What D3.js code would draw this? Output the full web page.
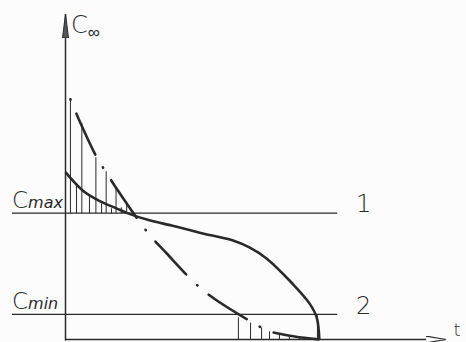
<!DOCTYPE html>
<html>
<head>
<meta charset="utf-8">
<script src="https://cdn.jsdelivr.net/npm/d3@7"></script>
<style>
  body { margin: 0; background: #fcfcfc; }
  svg { display: block; }
  text { font-family: "DejaVu Sans", sans-serif; font-weight: 200; fill: #2a2a2a; }
</style>
</head>
<body>
<svg id="chart"></svg>
<script>
const width = 466,
  height = 342;

// ---- data (t, C in chart units) ----
const solidT = [0, 4.5, 8.9, 13.4, 16.1, 22.1, 28.7, 35.3, 43.9, 48.4, 52.9, 59.7, 64.2, 66.1, 66.8];
const solidC = [51.4, 45.8, 42.6, 40.3, 38.9, 36.6, 34.8, 32.8, 30.5, 28.3, 24.9, 17.2, 11.1, 6.8, 0];

const dashT = [1.3, 3.7, 8.2, 10.5, 13.2, 21.6, 26.6, 33.9, 38.7, 49.7, 53.7, 60.3, 66.8];
const dashC = [73.8, 67.1, 56.0, 51.7, 46.8, 32.9, 26.5, 17.5, 12.9, 4.9, 2.5, 0.9, 0];

// sticks standing on the Cmax line
const upperStickT = [1.3, 2.9, 4.3, 6.3, 8.0, 9.5, 10.7, 12.1, 13.3, 14.7, 16.1];
const upperStickTop = [73.8, 47.7, 66.5, 44.3, 56.0, 41.8, 51.7, 40.3, 46.8, 40.6, 41.5];

// sticks standing on the t axis
const lowerStickT = [45.5, 48.7, 51.6, 53.7, 56.3, 58.9, 61.6, 66.3];
const lowerStickTop = [6.8, 5.2, 3.7, 2.5, 1.7, 1.1, 0.6, 7.4];

const levelNames = ["max", "min"];
const levelValues = [38.8, 7.7];
const levelIds = ["1", "2"];

const ink = "#2a2a2a";

const svg = d3.select("#chart").attr("width", width).attr("height", height);

const x = d3.scaleLinear().domain([0, 100]).range([65.5, 445.5]);
const y = d3.scaleLinear().domain([0, 100]).range([339.5, 14]);

// arrowheads
const defs = svg.append("defs");
defs.append("marker")
  .attr("id", "arrowY")
  .attr("viewBox", "0 0 24 8")
  .attr("refX", 24).attr("refY", 4)
  .attr("markerUnits", "userSpaceOnUse")
  .attr("markerWidth", 24).attr("markerHeight", 8)
  .attr("orient", "auto")
  .append("path")
  .attr("d", "M0,1 L24,4 L0,7 Z")
  .attr("fill", "#555").attr("stroke", ink).attr("stroke-width", 1);
defs.append("marker")
  .attr("id", "arrowX")
  .attr("viewBox", "0 0 20 8")
  .attr("refX", 20).attr("refY", 4)
  .attr("markerUnits", "userSpaceOnUse")
  .attr("markerWidth", 20).attr("markerHeight", 8)
  .attr("orient", "auto")
  .append("path")
  .attr("d", "M0,0.5 L20,4 L0,7.5 Z")
  .attr("fill", "#fcfcfc").attr("stroke", ink).attr("stroke-width", 1.2);

// ---- axes ----
svg.append("line")
  .attr("x1", x(0)).attr("y1", y(0) + 1)
  .attr("x2", x(0)).attr("y2", y(100))
  .attr("stroke", ink).attr("stroke-width", 1.5)
  .attr("marker-end", "url(#arrowY)");
svg.append("line")
  .attr("x1", x(0)).attr("y1", y(0))
  .attr("x2", x(100)).attr("y2", y(0))
  .attr("stroke", ink).attr("stroke-width", 1.6)
  .attr("marker-end", "url(#arrowX)");

svg.append("text").attr("x", 71).attr("y", 33).style("font-size", "24px")
  .text("C")
  .append("tspan").attr("dx", 0).attr("dy", 5).style("font-size", "17px").text("∞");
svg.append("text").attr("x", x(100) + 8).attr("y", 336).style("font-size", "18px").text("t");

// ---- Cmax / Cmin levels ----
const levels = svg.selectAll(".level")
  .data(levelValues)
  .enter()
  .append("g")
  .attr("class", "level");

levels.append("line")
  .attr("x1", 12).attr("x2", x(71.5))
  .attr("y1", d => y(d)).attr("y2", d => y(d))
  .attr("stroke", ink).attr("stroke-width", 1.3);

levels.append("text")
  .attr("x", 12).attr("y", d => y(d) - 5)
  .style("font-size", "23px")
  .text("C")
  .append("tspan").attr("dx", 0).style("font-size", "16px").style("font-style", "italic")
  .text((d, i) => levelNames[i]);

levels.append("text")
  .attr("x", 356).attr("y", (d, i) => y(d) - (i === 0 ? 1 : 0))
  .style("font-size", "24px")
  .text((d, i) => levelIds[i]);

// ---- sticks ----
svg.selectAll(".ustick")
  .data(upperStickT)
  .enter()
  .append("line")
  .attr("class", "ustick")
  .attr("x1", d => x(d)).attr("x2", d => x(d))
  .attr("y1", y(levelValues[0]))
  .attr("y2", (d, i) => y(upperStickTop[i]))
  .attr("stroke", ink).attr("stroke-width", 1);

svg.selectAll(".lstick")
  .data(lowerStickT)
  .enter()
  .append("line")
  .attr("class", "lstick")
  .attr("x1", d => x(d)).attr("x2", d => x(d))
  .attr("y1", y(0))
  .attr("y2", (d, i) => y(lowerStickTop[i]))
  .attr("stroke", ink).attr("stroke-width", 1);

// ---- curves ----
const line = d3.line()
  .x(d => x(d[0]))
  .y(d => y(d[1]))
  .curve(d3.curveCatmullRom.alpha(0.5));

svg.append("path")
  .datum(solidT.map((t, i) => [t, solidC[i]]))
  .attr("d", line)
  .attr("fill", "none")
  .attr("stroke", ink)
  .attr("stroke-width", 2.6);

svg.append("path")
  .datum(dashT.map((t, i) => [t, dashC[i]]))
  .attr("d", line)
  .attr("fill", "none")
  .attr("stroke", ink)
  .attr("stroke-width", 2.6)
  .attr("stroke-linecap", "round")
  .attr("stroke-dasharray", "0.5,15,45,15");
</script>
</body>
</html>
